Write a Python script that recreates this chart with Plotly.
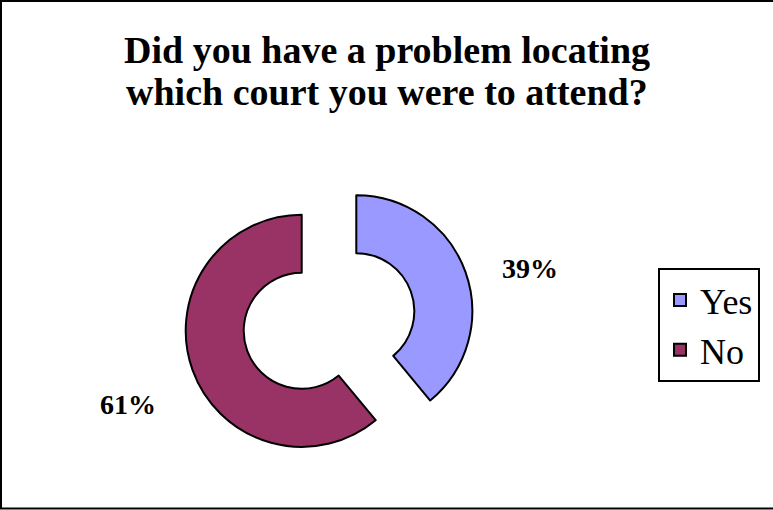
import plotly.graph_objects as go

# Survey responses
categories = ["Yes", "No"]
shares = [39, 61]
slice_colors = ["#9999FF", "#993366"]
title_lines = ["Did you have a problem locating", "which court you were to attend?"]

W, H = 773, 510
SERIF = "Liberation Serif, Times New Roman, serif"

fig = go.Figure()

fig.add_trace(go.Pie(
    labels=categories,
    values=shares,
    sort=False,
    direction="clockwise",
    rotation=0,
    hole=0.5,
    pull=[0.25, 0.25],
    marker=dict(colors=slice_colors, line=dict(color="black", width=2)),
    textinfo="none",
    hoverinfo="label+percent",
    domain=dict(x=[184 / W, 474 / W], y=[44 / H, 334 / H]),
))

# Title, one annotation per line for tight line spacing
for line, cy in zip(title_lines, [50, 92]):
    fig.add_annotation(
        x=0.5, y=1 - cy / H, xref="paper", yref="paper",
        text=f"<b>{line}</b>", showarrow=False,
        font=dict(family=SERIF, size=38, color="black"),
        xanchor="center", yanchor="middle",
    )

# Percentage labels placed outside each slice
label_pos = [(530 / W, 1 - 268 / H), (128 / W, 1 - 404 / H)]
total = sum(shares)
for v, (lx, ly) in zip(shares, label_pos):
    fig.add_annotation(
        x=lx, y=ly, xref="paper", yref="paper",
        text=f"<b>{round(100 * v / total)}%</b>", showarrow=False,
        font=dict(family=SERIF, size=28, color="black"),
        xanchor="center", yanchor="middle",
    )

# Chart frame
fig.add_shape(
    type="rect", xref="paper", yref="paper",
    x0=1 / W, x1=1.02, y0=1.5 / H, y1=1 - 1 / H,
    line=dict(color="black", width=2), fillcolor="rgba(0,0,0,0)",
    layer="above",
)

fig.update_layout(
    width=W, height=H,
    margin=dict(l=0, r=0, t=0, b=0),
    paper_bgcolor="white",
    plot_bgcolor="white",
    showlegend=True,
    legend=dict(
        x=658 / W, xanchor="left", y=1 - 268 / H, yanchor="top",
        bordercolor="black", borderwidth=2, bgcolor="white",
        font=dict(family=SERIF, size=36, color="black"),
        traceorder="normal",
    ),
)

fig.write_html("out.html")
